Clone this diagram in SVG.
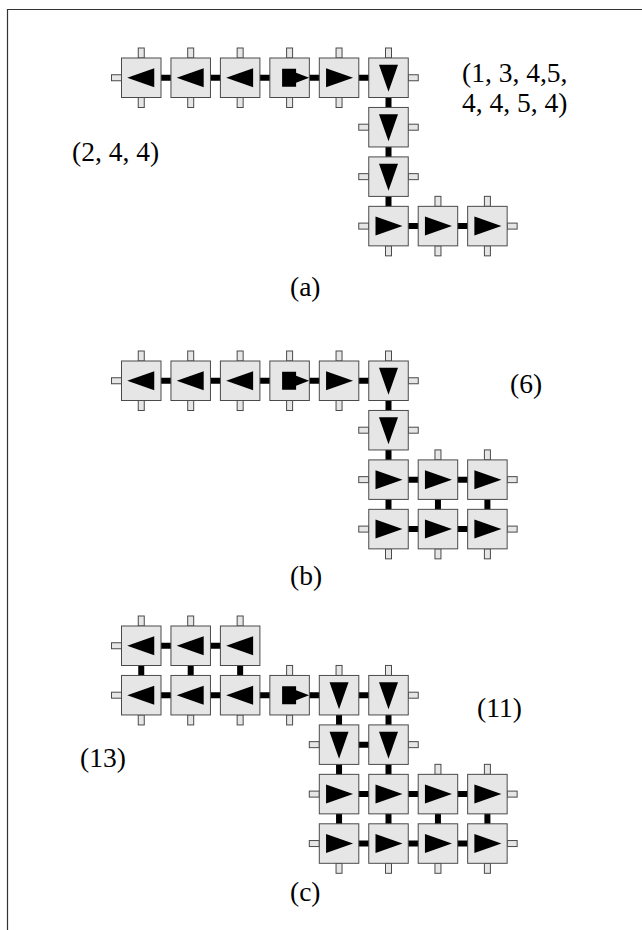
<svg xmlns="http://www.w3.org/2000/svg" xmlns:xlink="http://www.w3.org/1999/xlink" width="642" height="930" viewBox="0 0 642 930">
<style>
.box{fill:#e6e6e6;stroke:#4a4a4a;stroke-width:1}
.pin{fill:#e6e6e6;stroke:#4a4a4a;stroke-width:1}
.arr{fill:#000}
.wire{stroke:#000;stroke-width:6;fill:none}
.lbl{font-family:"Liberation Serif","Times New Roman",serif;font-size:27.5px;fill:#000}
.frame{stroke:#333;stroke-width:1.2;fill:none}
</style>
<defs>
<rect id="bx" class="box" x="-19.75" y="-19.75" width="39.5" height="39.5"/>
<rect id="pT" class="pin" x="-3" y="-29.75" width="6" height="10"/>
<rect id="pB" class="pin" x="-3" y="19.75" width="6" height="10"/>
<rect id="pL" class="pin" x="-29.75" y="-3" width="10" height="6"/>
<rect id="pR" class="pin" x="19.75" y="-3" width="10" height="6"/>
<polygon id="aR" class="arr" points="-13,-9.5 14,0 -13,9.5"/>
<polygon id="aL" class="arr" points="13,-9.5 -14,0 13,9.5"/>
<polygon id="aD" class="arr" points="-9.5,-13 9.5,-13 0,14"/>
<path id="hs" class="arr" d="M-7.5,-9 H6.5 V-5 L19.5,0 L6.5,5 V9 H-7.5 Z"/>
</defs>
<path class="frame" d="M7.5,930 V9.5 H642"/>
<g id="connectors">
<path class="wire" d="M141.25,77.75 H388.5 V226.1 H487.4"/>
<path class="wire" d="M141.25,380.75 H388.5 V529.1 M388.5,479.65 H487.4 V529.1 M388.5,529.1 H487.4 M437.95,479.65 V529.1"/>
<path class="wire" d="M141.25,645.75 H240.15 M141.25,645.75 V695.2 M190.7,645.75 V695.2 M240.15,645.75 V695.2 M141.25,695.2 H388.5 M339.05,695.2 V843.55 M388.5,695.2 V843.55 M339.05,744.65 H388.5 M339.05,794.1 H487.4 M339.05,843.55 H487.4 M437.95,794.1 V843.55 M487.4,794.1 V843.55"/>
</g>
<g id="a00" transform="translate(141.25,77.75)"><use href="#pT"/><use href="#pB"/><use href="#pL"/><use href="#bx"/><use href="#aL"/></g>
<g id="a01" transform="translate(190.7,77.75)"><use href="#pT"/><use href="#pB"/><use href="#bx"/><use href="#aL"/></g>
<g id="a02" transform="translate(240.15,77.75)"><use href="#pT"/><use href="#pB"/><use href="#bx"/><use href="#aL"/></g>
<g id="a03" transform="translate(289.6,77.75)"><use href="#pT"/><use href="#pB"/><use href="#bx"/><use href="#hs"/></g>
<g id="a04" transform="translate(339.05,77.75)"><use href="#pT"/><use href="#pB"/><use href="#bx"/><use href="#aR"/></g>
<g id="a05" transform="translate(388.5,77.75)"><use href="#pT"/><use href="#pR"/><use href="#bx"/><use href="#aD"/></g>
<g id="a15" transform="translate(388.5,127.2)"><use href="#pL"/><use href="#pR"/><use href="#bx"/><use href="#aD"/></g>
<g id="a25" transform="translate(388.5,176.65)"><use href="#pL"/><use href="#pR"/><use href="#bx"/><use href="#aD"/></g>
<g id="a35" transform="translate(388.5,226.1)"><use href="#pL"/><use href="#pB"/><use href="#bx"/><use href="#aR"/></g>
<g id="a36" transform="translate(437.95,226.1)"><use href="#pT"/><use href="#pB"/><use href="#bx"/><use href="#aR"/></g>
<g id="a37" transform="translate(487.4,226.1)"><use href="#pT"/><use href="#pB"/><use href="#pR"/><use href="#bx"/><use href="#aR"/></g>
<g id="b00" transform="translate(141.25,380.75)"><use href="#pT"/><use href="#pB"/><use href="#pL"/><use href="#bx"/><use href="#aL"/></g>
<g id="b01" transform="translate(190.7,380.75)"><use href="#pT"/><use href="#pB"/><use href="#bx"/><use href="#aL"/></g>
<g id="b02" transform="translate(240.15,380.75)"><use href="#pT"/><use href="#pB"/><use href="#bx"/><use href="#aL"/></g>
<g id="b03" transform="translate(289.6,380.75)"><use href="#pT"/><use href="#pB"/><use href="#bx"/><use href="#hs"/></g>
<g id="b04" transform="translate(339.05,380.75)"><use href="#pT"/><use href="#pB"/><use href="#bx"/><use href="#aR"/></g>
<g id="b05" transform="translate(388.5,380.75)"><use href="#pT"/><use href="#pR"/><use href="#bx"/><use href="#aD"/></g>
<g id="b15" transform="translate(388.5,430.2)"><use href="#pL"/><use href="#pR"/><use href="#bx"/><use href="#aD"/></g>
<g id="b25" transform="translate(388.5,479.65)"><use href="#pL"/><use href="#bx"/><use href="#aR"/></g>
<g id="b26" transform="translate(437.95,479.65)"><use href="#pT"/><use href="#bx"/><use href="#aR"/></g>
<g id="b27" transform="translate(487.4,479.65)"><use href="#pT"/><use href="#pR"/><use href="#bx"/><use href="#aR"/></g>
<g id="b35" transform="translate(388.5,529.1)"><use href="#pL"/><use href="#pB"/><use href="#bx"/><use href="#aR"/></g>
<g id="b36" transform="translate(437.95,529.1)"><use href="#pB"/><use href="#bx"/><use href="#aR"/></g>
<g id="b37" transform="translate(487.4,529.1)"><use href="#pB"/><use href="#pR"/><use href="#bx"/><use href="#aR"/></g>
<g id="c00" transform="translate(141.25,645.75)"><use href="#pT"/><use href="#pL"/><use href="#bx"/><use href="#aL"/></g>
<g id="c01" transform="translate(190.7,645.75)"><use href="#pT"/><use href="#bx"/><use href="#aL"/></g>
<g id="c02" transform="translate(240.15,645.75)"><use href="#pT"/><use href="#bx"/><use href="#aL"/></g>
<g id="c10" transform="translate(141.25,695.2)"><use href="#pL"/><use href="#pB"/><use href="#bx"/><use href="#aL"/></g>
<g id="c11" transform="translate(190.7,695.2)"><use href="#pB"/><use href="#bx"/><use href="#aL"/></g>
<g id="c12" transform="translate(240.15,695.2)"><use href="#pB"/><use href="#bx"/><use href="#aL"/></g>
<g id="c13" transform="translate(289.6,695.2)"><use href="#pT"/><use href="#pB"/><use href="#bx"/><use href="#hs"/></g>
<g id="c14" transform="translate(339.05,695.2)"><use href="#pT"/><use href="#bx"/><use href="#aD"/></g>
<g id="c15" transform="translate(388.5,695.2)"><use href="#pT"/><use href="#pR"/><use href="#bx"/><use href="#aD"/></g>
<g id="c24" transform="translate(339.05,744.65)"><use href="#pL"/><use href="#bx"/><use href="#aD"/></g>
<g id="c25" transform="translate(388.5,744.65)"><use href="#pR"/><use href="#bx"/><use href="#aD"/></g>
<g id="c34" transform="translate(339.05,794.1)"><use href="#pL"/><use href="#bx"/><use href="#aR"/></g>
<g id="c35" transform="translate(388.5,794.1)"><use href="#bx"/><use href="#aR"/></g>
<g id="c36" transform="translate(437.95,794.1)"><use href="#pT"/><use href="#bx"/><use href="#aR"/></g>
<g id="c37" transform="translate(487.4,794.1)"><use href="#pT"/><use href="#pR"/><use href="#bx"/><use href="#aR"/></g>
<g id="c44" transform="translate(339.05,843.55)"><use href="#pL"/><use href="#pB"/><use href="#bx"/><use href="#aR"/></g>
<g id="c45" transform="translate(388.5,843.55)"><use href="#pB"/><use href="#bx"/><use href="#aR"/></g>
<g id="c46" transform="translate(437.95,843.55)"><use href="#pB"/><use href="#bx"/><use href="#aR"/></g>
<g id="c47" transform="translate(487.4,843.55)"><use href="#pB"/><use href="#pR"/><use href="#bx"/><use href="#aR"/></g>
<g id="labels">
<text class="lbl" x="462" y="82">(1, 3, 4,5,</text>
<text class="lbl" x="462" y="112">4, 4, 5, 4)</text>
<text class="lbl" x="72" y="161">(2, 4, 4)</text>
<text class="lbl" x="290" y="296">(a)</text>
<text class="lbl" x="510" y="393">(6)</text>
<text class="lbl" x="290" y="585">(b)</text>
<text class="lbl" x="477" y="717">(11)</text>
<text class="lbl" x="80" y="767">(13)</text>
<text class="lbl" x="290" y="901">(c)</text>
</g>
</svg>
